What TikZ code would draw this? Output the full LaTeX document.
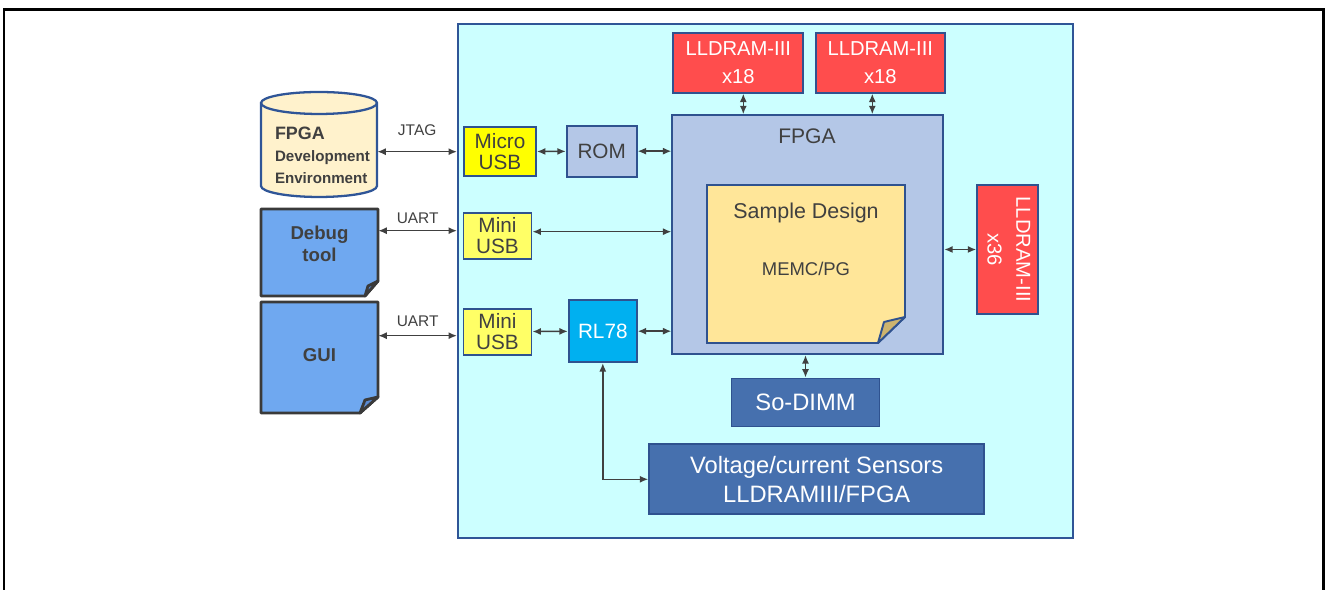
\documentclass[tikz,border=0pt]{standalone}
\usepackage{fontspec}
\setmainfont{Liberation Sans}
\usepackage{graphicx}
\usetikzlibrary{arrows.meta}

\definecolor{boardcyan}{HTML}{CCFFFF}
\definecolor{boardline}{HTML}{2F5597}
\definecolor{boxline}{HTML}{2F528F}
\definecolor{dramred}{HTML}{FF4D4D}
\definecolor{fpgablue}{HTML}{B4C7E7}
\definecolor{samplefill}{HTML}{FFE699}
\definecolor{samplefold}{HTML}{CDB46E}
\definecolor{usbyellow}{HTML}{FFFF00}
\definecolor{miniyellow}{HTML}{FFFF66}
\definecolor{rlblue}{HTML}{00B0F0}
\definecolor{darkbox}{HTML}{4670AE}
\definecolor{cylfill}{HTML}{FFF2CC}
\definecolor{noteblue}{HTML}{6FA8F0}
\definecolor{notefold}{HTML}{5A8AD2}
\definecolor{notegray}{HTML}{3A3A3A}
\definecolor{txtgray}{HTML}{404040}

\begin{document}
\begin{tikzpicture}[x=0.02cm, y=0.02cm,
  box/.style={draw=boxline, line width=1.1pt, inner sep=0pt, align=center, text=txtgray, font=\fontsize{11.8}{12.2}\selectfont},
  dram/.style={box, fill=dramred, text=white, font=\fontsize{11.5}{16.3}\selectfont},
  usb/.style={box, fill=miniyellow, minimum width=1.36cm, minimum height=0.92cm},
  bigbox/.style={box, fill=darkbox, text=white, font=\fontsize{13.5}{16.7}\selectfont},
  note/.style={draw=notegray, line width=1.6pt, fill=noteblue, line join=round},
  side/.style={text=txtgray, font=\bfseries\fontsize{10.6}{12.3}\selectfont, align=center},
  lbl/.style={text=txtgray, font=\fontsize{8.8}{10}\selectfont},
  biarrow/.style={{Latex[length=4.8pt,width=4pt]}-{Latex[length=4.8pt,width=4pt]}, draw=txtgray, line width=0.85pt}]

  \useasboundingbox (0,0) rectangle (1326,590);

  % --- frame, open at the bottom ---
  \draw[line width=1.7pt] (4,0) -- (4,580) -- (1323,580) -- (1323,0);

  % --- board ---
  \node[draw=boardline, line width=1.2pt, fill=boardcyan, minimum width=12.3cm, minimum height=10.28cm, inner sep=0pt] (board) at (765.5,309) {};

  % --- memories on top ---
  \node[dram, minimum width=2.6cm, minimum height=1.2cm] (dram1) at (738.3,527.3) {LLDRAM-III\\x18};
  \node[dram, minimum width=2.58cm, minimum height=1.2cm] (dram2) at (880.3,527.3) {LLDRAM-III\\x18};

  % --- FPGA ---
  \node[box, fill=fpgablue, minimum width=5.42cm, minimum height=4.78cm] (fpga) at (807.8,355.3) {};
  \node[box, draw=none, font=\fontsize{12}{13}\selectfont] (fpgalbl) at (807,453.3) {FPGA};

  % --- sample design (sheet with folded corner) ---
  \draw[draw=boxline, line width=1.1pt, fill=samplefill] (707,405) -- (905,405) -- (905,273) -- (878,247) -- (707,247) -- cycle;
  \draw[draw=boxline, line width=1.1pt, fill=samplefold, line join=round] (905,273) -- (884,268) -- (878,247) -- cycle;
  \node[box, draw=none, font=\fontsize{12.2}{14}\selectfont] (sample) at (806,376.7) {Sample Design};
  \node[box, draw=none, font=\fontsize{10.5}{12}\selectfont] (memc) at (806,320.7) {MEMC/PG};

  % --- side memory ---
  \node[dram, minimum width=1.22cm, minimum height=2.58cm] (dram3) at (1007.7,340.5)
    {\rotatebox{-90}{\begin{tabular}{@{}c@{}}LLDRAM-III\\x36\end{tabular}}};

  % --- USB, ROM, RL78 ---
  \node[usb, fill=usbyellow, minimum width=1.44cm, minimum height=0.98cm] (microusb) at (500,438.3) {Micro\\USB};
  \node[box, fill=fpgablue, minimum width=1.4cm, minimum height=1.02cm] (rom) at (601.7,438.8) {ROM};
  \node[usb] (mini1) at (497.5,354.3) {Mini\\USB};
  \node[usb] (mini2) at (497.5,258.3) {Mini\\USB};
  \node[box, fill=rlblue, text=white, minimum width=1.36cm, minimum height=1.24cm] (rl78) at (602.8,258.8) {RL78};

  % --- lower boxes ---
  \node[bigbox, minimum width=2.96cm, minimum height=0.96cm] (sodimm) at (805.5,187.5) {So-DIMM};
  \node[bigbox, minimum width=6.7cm, minimum height=1.4cm] (sensors) at (816.7,110.7) {Voltage/current Sensors\\LLDRAMIII/FPGA};

  % --- host side ---
  \draw[draw=boardline, line width=1.3pt, fill=cylfill] (261,487) -- (261,404)
    arc[start angle=180, end angle=360, x radius=1.16cm, y radius=0.22cm] -- (377,487)
    arc[start angle=0, end angle=180, x radius=1.16cm, y radius=0.22cm] -- cycle;
  \draw[draw=boardline, line width=1.3pt] (261,487) arc[start angle=180, end angle=360, x radius=1.16cm, y radius=0.22cm];
  \node[side, align=left, font=\bfseries\fontsize{8.6}{12.5}\selectfont, minimum width=2.32cm, text width=1.76cm] (fpgadev) at (319,435)
    {{\fontsize{10.2}{12.5}\selectfont FPGA}\\Development\\Environment};

  \draw[note] (261,381) -- (378,381) -- (378,309) -- (365,294) -- (261,294) -- cycle;
  \draw[note, fill=notefold] (378,309) -- (368,304) -- (365,294) -- cycle;
  \node[side, minimum width=2.34cm] (debug) at (319.5,346) {Debug\\tool};

  \draw[note] (261,288) -- (378,288) -- (378,193) -- (360,177) -- (261,177) -- cycle;
  \draw[note, fill=notefold] (378,193) -- (365,190) -- (360,177) -- cycle;
  \node[side, minimum width=2.34cm] (gui) at (319.5,235) {GUI};

  % --- connections ---
  \draw[biarrow] (fpgadev.east |- microusb) -- (microusb -| board.west)
    node[lbl, midway, above=5.2pt] (jtag) {JTAG};
  \draw[biarrow] ([yshift=0.1cm]debug.east |- mini1) -- ([yshift=0.1cm]board.west |- mini1)
    node[lbl, midway, above=0.4pt] (uart1) {UART};
  \draw[biarrow] ([yshift=-0.08cm]gui.east |- mini2) -- ([yshift=-0.08cm]board.west |- mini2)
    node[lbl, midway, above=1.6pt] (uart2) {UART};
  \draw[biarrow] (microusb) -- (rom);
  \draw[biarrow] (rom) -- (rom -| fpga.west);
  \draw[biarrow] ([yshift=0.08cm]mini1.east) -- ([yshift=0.08cm]mini1.east -| fpga.west);
  \draw[biarrow] (mini2) -- (rl78);
  \draw[biarrow] (rl78) -- (rl78 -| fpga.west);
  \draw[biarrow] ([xshift=0.1cm]dram1.south) -- ([xshift=0.1cm]dram1.south |- fpga.north);
  \draw[biarrow] ([xshift=-0.16cm]dram2.south) -- ([xshift=-0.16cm]dram2.south |- fpga.north);
  \draw[biarrow] (fpga.east |- dram3) -- (dram3.west);
  \draw[biarrow] (sodimm.north |- fpga.south) -- (sodimm.north);
  \draw[biarrow] (rl78.south) |- (sensors.west);
\end{tikzpicture}
\end{document}
